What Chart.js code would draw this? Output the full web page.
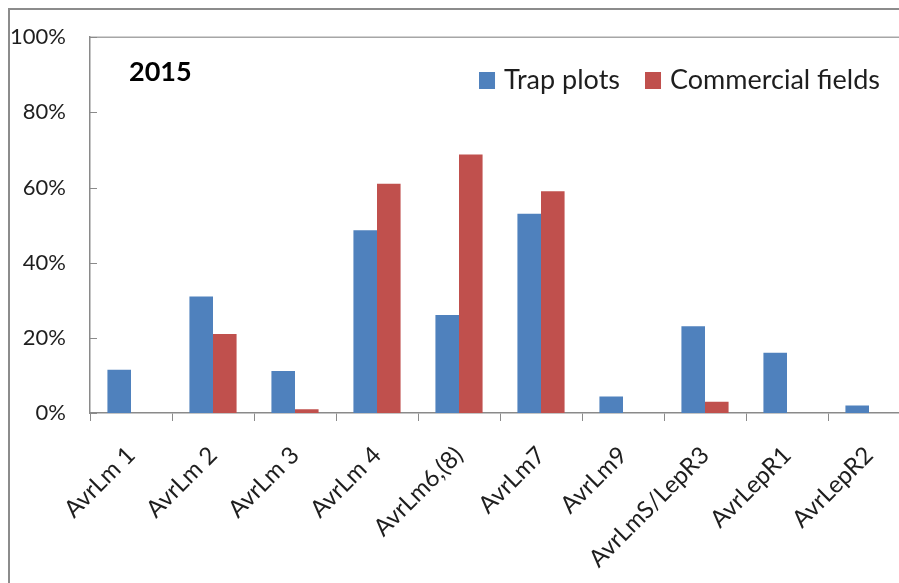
<!DOCTYPE html>
<html>
<head>
<meta charset="utf-8">
<script src="https://cdn.jsdelivr.net/npm/chart.js@4"></script>
<style>
  html, body { margin: 0; padding: 0; background: #fff; overflow: hidden; }
  #wrap { position: relative; width: 899px; height: 583px; overflow: hidden; }
  #mycanvas { position: absolute; left: 0; top: 0; }
  #frame { position: absolute; left: 8px; top: 8px; width: 1000px; height: 1000px;
           border-left: 2px solid #8c8c8c; border-top: 2px solid #8c8c8c; pointer-events: none; }
</style>
</head>
<body>
<div id="wrap">
  <canvas id="mycanvas" width="930" height="583"></canvas>
  <div id="frame"></div>
</div>
<script>
var categories = ['AvrLm 1', 'AvrLm 2', 'AvrLm 3', 'AvrLm 4', 'AvrLm6,(8)', 'AvrLm7',
                  'AvrLm9', 'AvrLmS/LepR3', 'AvrLepR1', 'AvrLepR2'];
var trapPlots = [11.5, 31, 11.2, 48.6, 26.1, 53, 4.4, 23.1, 16, 2];
var commercialFields = [0, 21, 1, 61, 68.8, 59, 0, 3, 0, 0];
var yTicks = [0, 20, 40, 60, 80, 100];
var yearLabel = '2015';

var FONT = 'Lato, "Open Sans", sans-serif';
var TEXT = '#1e1e1e';
var AXIS = '#8a8a8a';

// legend + year label inside the plot area, plus the frame lines and inner y ticks
var insidePlugin = {
  id: 'insideStuff',
  afterDraw: function(chart) {
    var ctx = chart.ctx;
    var area = chart.chartArea;
    var y = chart.scales.y;
    ctx.save();
    // top border of plot area
    ctx.strokeStyle = '#a6a6a6';
    ctx.lineWidth = 1.5;
    ctx.beginPath();
    ctx.moveTo(area.left, area.top);
    ctx.lineTo(area.right, area.top);
    ctx.stroke();
    // small tick marks inside the y axis
    ctx.strokeStyle = AXIS;
    ctx.lineWidth = 1;
    yTicks.forEach(function(v) {
      var py = Math.round(y.getPixelForValue(v)) + 0.5;
      ctx.beginPath();
      ctx.moveTo(area.left, py);
      ctx.lineTo(area.left + 7, py);
      ctx.stroke();
    });
    // year label
    ctx.fillStyle = '#000';
    ctx.font = 'bold 27px ' + FONT;
    ctx.textBaseline = 'alphabetic';
    ctx.textAlign = 'left';
    ctx.fillText(yearLabel, area.left + 39, 81);
    // legend
    ctx.font = '27px ' + FONT;
    var sets = chart.data.datasets;
    var box = 16, gap = 9, between = 25;
    var total = 0;
    sets.forEach(function(ds, i) {
      total += box + gap + ctx.measureText(ds.label).width;
      if (i < sets.length - 1) total += between;
    });
    var x = 880 - total;
    var cy = 80;
    sets.forEach(function(ds) {
      ctx.fillStyle = ds.backgroundColor;
      ctx.fillRect(x, cy - 8, box, box + 1);
      x += box + gap;
      ctx.fillStyle = TEXT;
      ctx.textBaseline = 'middle';
      ctx.fillText(ds.label, x, cy);
      x += ctx.measureText(ds.label).width + between;
    });
    ctx.restore();
  }
};

var ctx = document.getElementById('mycanvas');

var chart = new Chart(ctx, {
  type: 'bar',
  data: {
    labels: categories,
    datasets: [
      { label: 'Trap plots', data: trapPlots, backgroundColor: '#4f81bd',
        barPercentage: 1.0, categoryPercentage: 0.575 },
      { label: 'Commercial fields', data: commercialFields, backgroundColor: '#c0504d',
        barPercentage: 1.0, categoryPercentage: 0.575 }
    ]
  },
  plugins: [insidePlugin],
  options: {
    responsive: false,
    animation: false,
    layout: { padding: { left: 0, top: 35, right: 20, bottom: 0 } },
    plugins: {
      legend: { display: false },
      tooltip: { enabled: false }
    },
    scales: {
      x: {
        grid: { display: true, drawOnChartArea: false, drawTicks: true, tickLength: 8, color: AXIS, offset: true },
        border: { display: true, color: AXIS, width: 1.5 },
        ticks: {
          minRotation: 45, maxRotation: 45, autoSkip: false,
          color: TEXT, padding: 20,
          font: { family: FONT, size: 24 }
        },
        afterFit: function(s) { s.height = 170; }
      },
      y: {
        min: 0, max: 100,
        grid: { display: false, drawTicks: false },
        border: { display: true, color: AXIS, width: 1.5 },
        ticks: {
          stepSize: 20, color: TEXT, padding: 24,
          font: { family: FONT, size: 22 },
          callback: function(v) { return v + '%'; }
        },
        afterFit: function(s) { s.width = 90; }
      }
    }
  }
});
</script>
</body>
</html>
